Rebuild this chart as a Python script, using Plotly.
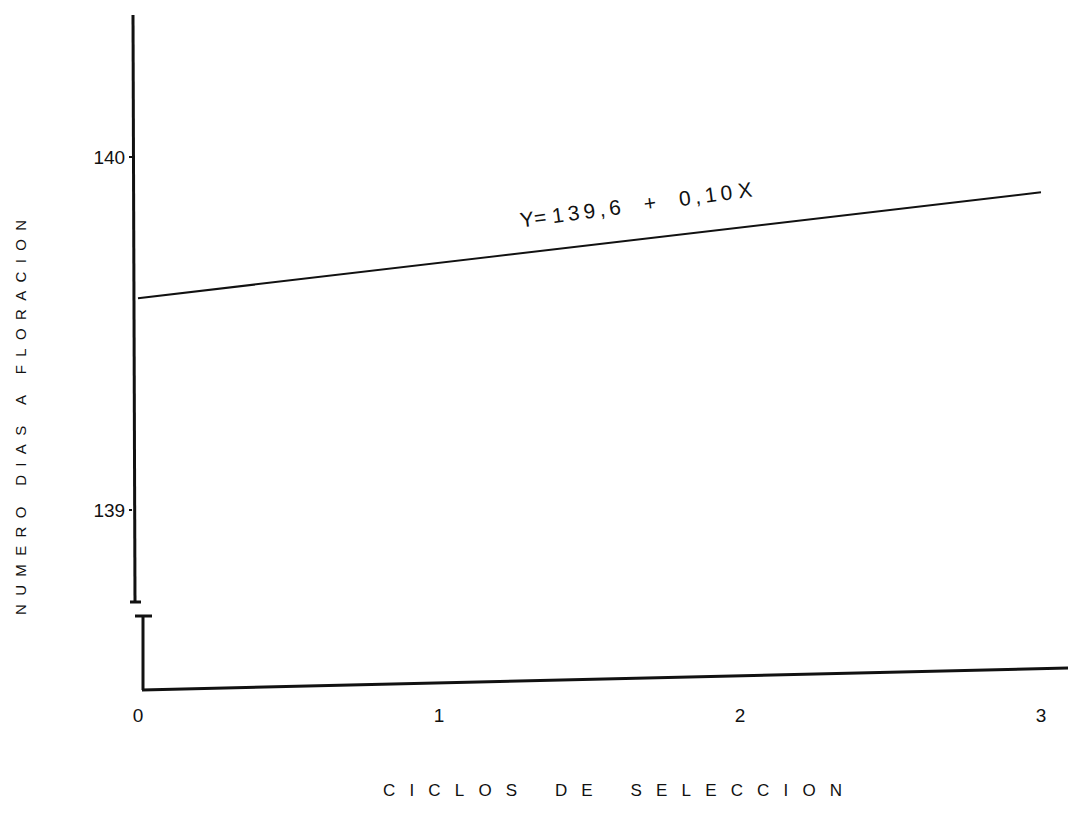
import plotly.graph_objects as go

# Regression of days to flowering on selection cycle
cycles = [0, 1, 2, 3]
fitted_days = [139.6, 139.7, 139.8, 139.9]   # Y = 139,6 + 0,10 X

x_tick_vals = [0, 1, 2, 3]
x_tick_text = ["0", "1", "2", "3"]
y_tick_vals = [139, 140]
y_tick_text = ["139", "140"]

equation_parts = ["Y=", "139,6", "+", "0,10", "X"]
x_title_text = "CICLOS DE SELECCION"
y_title_text = "NUMERO DIAS A FLORACION"

W, H = 1069, 824
L, R, T, B = 133, 1068, 15, 690          # plotting area in pixels
X_RANGE = [-0.0166, 3.0897]
Y_RANGE = [138.4901, 140.4023]
FONT = "Liberation Sans, Arial, sans-serif"
INK = "#111111"
NB = "\u00a0"
THIN = "\u2009"


def px(xp):
    return (xp - L) / (R - L)


def py(yp):
    return (B - yp) / (B - T)


def xd(xp):
    return X_RANGE[0] + (xp - L) / (R - L) * (X_RANGE[1] - X_RANGE[0])


def yd(yp):
    return Y_RANGE[0] + (B - yp) / (B - T) * (Y_RANGE[1] - Y_RANGE[0])


def spaced(text, inner=2, gap=5):
    words = text.split(" ")
    return (NB * gap).join((NB * inner).join(list(w)) for w in words)


def equation_label(parts):
    y_eq, const, plus, slope, var = parts
    return (y_eq + NB + THIN.join(const) + NB * 4 + plus + NB * 4
            + THIN.join(slope) + NB + var)


fig = go.Figure()
fig.add_trace(go.Scatter(
    x=cycles, y=fitted_days, mode="lines",
    line=dict(color=INK, width=2),
    hoverinfo="skip", showlegend=False,
))

line_style = dict(color=INK, width=3)
shapes = [
    # upper part of the vertical axis, above the break
    dict(type="line", xref="paper", yref="paper",
         x0=px(135), y0=py(602), x1=px(133), y1=py(15), line=line_style),
    dict(type="line", xref="paper", yref="paper",
         x0=px(130), y0=py(602), x1=px(141), y1=py(602), line=line_style),
    # lower part of the vertical axis, below the break
    dict(type="line", xref="paper", yref="paper",
         x0=px(143), y0=py(616), x1=px(143), y1=py(690), line=line_style),
    dict(type="line", xref="paper", yref="paper",
         x0=px(135), y0=py(616), x1=px(152), y1=py(616), line=line_style),
    # horizontal axis
    dict(type="line", xref="paper", yref="paper",
         x0=px(142), y0=py(690), x1=px(1068), y1=py(668), line=line_style),
]

annotations = [
    dict(text=equation_label(equation_parts), xref="x", yref="y",
         x=xd(636), y=yd(204), xanchor="center", yanchor="middle",
         showarrow=False, textangle=-7.6,
         font=dict(family=FONT, size=21, color=INK)),
    dict(text=spaced(x_title_text, inner=3, gap=8), xref="paper", yref="paper",
         x=px(612), y=py(790), xanchor="center", yanchor="middle",
         showarrow=False,
         font=dict(family=FONT, size=17, color=INK)),
    dict(text=spaced(y_title_text, inner=2, gap=5), xref="paper", yref="paper",
         x=px(20), y=py(418), xanchor="center", yanchor="middle",
         showarrow=False, textangle=-90,
         font=dict(family=FONT, size=15, color=INK)),
]

fig.update_layout(
    width=W, height=H,
    margin=dict(l=L, r=W - R, t=T, b=H - B, pad=0),
    paper_bgcolor="white", plot_bgcolor="white",
    showlegend=False,
    shapes=shapes,
    annotations=annotations,
    xaxis=dict(range=X_RANGE, showline=False, zeroline=False, showgrid=False,
               tickmode="array", tickvals=x_tick_vals, ticktext=x_tick_text,
               ticks="", ticklabelstandoff=12,
               tickfont=dict(family=FONT, size=19, color=INK)),
    yaxis=dict(range=Y_RANGE, showline=False, zeroline=False, showgrid=False,
               tickmode="array", tickvals=y_tick_vals, ticktext=y_tick_text,
               ticks="outside", ticklen=3, tickwidth=2, tickcolor=INK,
               tickfont=dict(family=FONT, size=19, color=INK)),
)

fig.write_html("out.html")
